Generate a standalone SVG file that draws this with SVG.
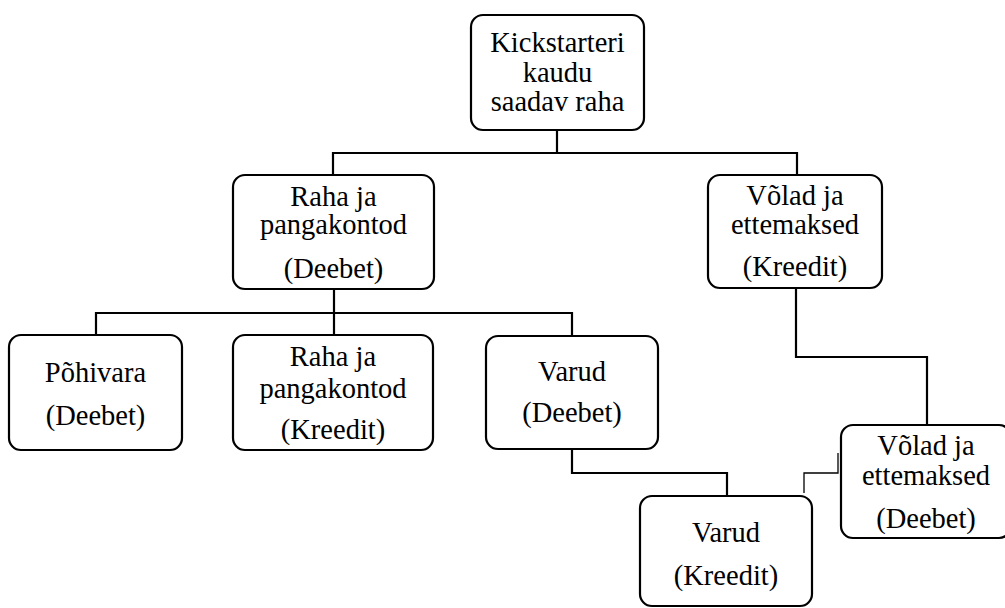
<svg xmlns="http://www.w3.org/2000/svg" width="1005" height="608" viewBox="0 0 1005 608">
<style>
.box{fill:#fff;stroke:#000;stroke-width:2.2}
text{font-family:'Liberation Serif','Times New Roman',Tinos,'Nimbus Roman','Nimbus Roman No9 L','DejaVu Serif','Noto Serif',serif;font-size:28.5px;fill:#000;text-anchor:middle}
.c{fill:none;stroke:#000;stroke-width:2.2}
.thin{fill:none;stroke:#000;stroke-width:1.3}
</style>
<rect width="1005" height="608" fill="#fff"/>
<g id="connectors">
<path class="c" d="M557,130 V153 M333,175 V153 H797 V175"/>
<path class="c" d="M334,289 V335 M96,335 V313 H572 V336"/>
<path class="c" d="M796,288 V357 H927 V425"/>
<path class="c" d="M572,449 V473 H727 V496"/>
<path class="thin" d="M838,453 V473 H804 V493"/>
</g>
<g id="n_kickstarter">
<rect class="box" x="471" y="15" width="173" height="115" rx="12"/>
<text x="557.5" y="52">Kickstarteri</text>
<text x="557.5" y="82">kaudu</text>
<text x="557.5" y="111">saadav raha</text>
</g>
<g id="n_raha_deebet">
<rect class="box" x="233" y="175" width="201" height="114" rx="12"/>
<text x="333.5" y="206">Raha ja</text>
<text x="333.5" y="234">pangakontod</text>
<text x="333.5" y="278">(Deebet)</text>
</g>
<g id="n_volad_kreedit">
<rect class="box" x="708" y="175" width="174" height="113" rx="12"/>
<text x="795" y="205">Võlad ja</text>
<text x="795" y="234">ettemaksed</text>
<text x="795" y="276">(Kreedit)</text>
</g>
<g id="n_pohivara">
<rect class="box" x="9" y="335" width="173" height="115" rx="12"/>
<text x="95.5" y="382">Põhivara</text>
<text x="95.5" y="425">(Deebet)</text>
</g>
<g id="n_raha_kreedit">
<rect class="box" x="233" y="335" width="200" height="115" rx="12"/>
<text x="333" y="366">Raha ja</text>
<text x="333" y="398">pangakontod</text>
<text x="333" y="439">(Kreedit)</text>
</g>
<g id="n_varud_deebet">
<rect class="box" x="486" y="336" width="172" height="113" rx="12"/>
<text x="572" y="381">Varud</text>
<text x="572" y="422">(Deebet)</text>
</g>
<g id="n_varud_kreedit">
<rect class="box" x="640" y="496" width="172" height="110" rx="12"/>
<text x="726" y="542">Varud</text>
<text x="726" y="585">(Kreedit)</text>
</g>
<g id="n_volad_deebet">
<rect class="box" x="841" y="425" width="170" height="113" rx="12"/>
<text x="926" y="455">Võlad ja</text>
<text x="926" y="485">ettemaksed</text>
<text x="926" y="528">(Deebet)</text>
</g>
</svg>
